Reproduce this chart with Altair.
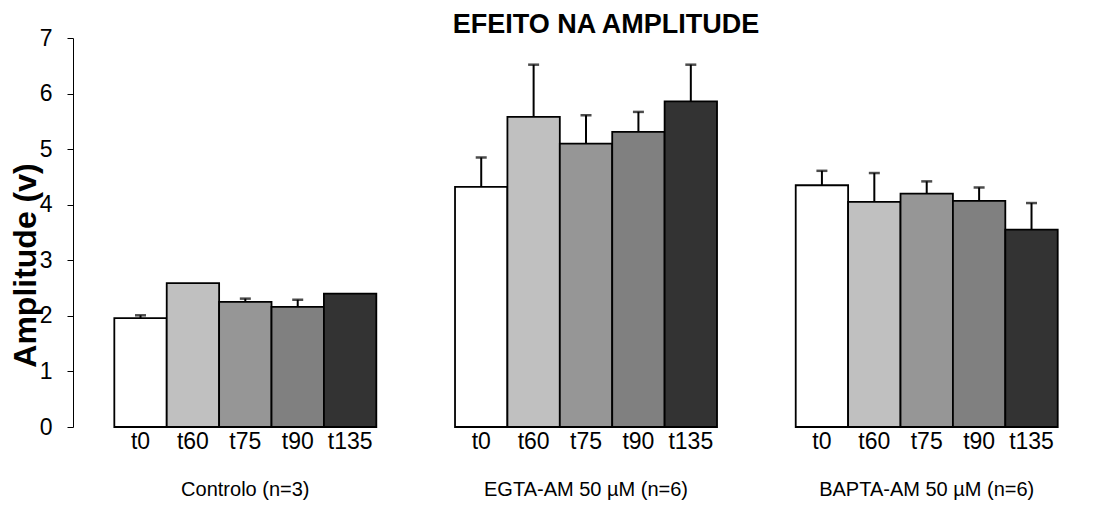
import altair as alt
import pandas as pd

groups = ["Controlo (n=3)", "EGTA-AM 50 µM (n=6)", "BAPTA-AM 50 µM (n=6)"]
times = ["t0", "t60", "t75", "t90", "t135"]
colors = ["#ffffff", "#c0c0c0", "#969696", "#808080", "#333333"]

controlo_mean = [1.96, 2.59, 2.25, 2.16, 2.40]
controlo_top = [2.01, 2.59, 2.31, 2.29, 2.40]
egta_mean = [4.32, 5.58, 5.10, 5.31, 5.86]
egta_top = [4.85, 6.52, 5.61, 5.67, 6.52]
bapta_mean = [4.35, 4.05, 4.20, 4.07, 3.55]
bapta_top = [4.61, 4.57, 4.42, 4.31, 4.03]

title_text = "EFEITO NA AMPLITUDE"
y_title = "Amplitude (v)"
y_ticks = [0, 1, 2, 3, 4, 5, 6, 7]

means = [controlo_mean, egta_mean, bapta_mean]
tops = [controlo_top, egta_top, bapta_top]
rows = []
for g, m, t in zip(groups, means, tops):
    for tm, v, e in zip(times, m, t):
        rows.append({"group": g, "time": tm, "value": v, "err": e})
df = pd.DataFrame(rows)

FONT = "Liberation Sans"

xscale = alt.Scale(domain=groups, paddingInner=0.231, paddingOuter=0.0728, align=0.833)
xoff = alt.XOffset("time:N", sort=times, scale=alt.Scale(domain=times, paddingInner=0, paddingOuter=0))
yscale = alt.Scale(domain=[0, 7], nice=False, zero=True)

base = alt.Chart(df).encode(
    x=alt.X("group:N", sort=groups, scale=xscale, axis=None),
    xOffset=xoff,
)

bars = base.mark_bar(stroke="black", strokeWidth=1.8).encode(
    y=alt.Y(
        "value:Q",
        scale=yscale,
        axis=alt.Axis(
            values=y_ticks,
            format="d",
            grid=False,
            tickSize=6,
            tickColor="black",
            domainColor="black",
            labelPadding=15,
            labelFont=FONT,
            labelFontSize=23,
            labelColor="black",
            title=y_title,
            titleFont=FONT,
            titleFontSize=32,
            titleFontWeight="bold",
            titleColor="black",
            titleX=-48,
            titleY=227,
            titleAngle=-90,
            titleAlign="center",
            titleBaseline="middle",
        ),
    ),
    fill=alt.Fill("time:N", scale=alt.Scale(domain=times, range=colors), legend=None),
)

errs = base.transform_filter("datum.err > datum.value")

rules = errs.mark_rule(color="black", strokeWidth=2).encode(
    y=alt.Y("value:Q", scale=yscale), y2="err:Q"
)
caps = errs.mark_tick(color="black", thickness=2.5, size=11).encode(
    y=alt.Y("err:Q", scale=yscale)
)

time_labels = base.mark_text(font=FONT, fontSize=23, baseline="middle", align="center", color="black").encode(
    y=alt.value(404), text="time:N"
)

gdf = pd.DataFrame({"group": groups})
group_labels = alt.Chart(gdf).mark_text(font=FONT, fontSize=20, baseline="middle", align="center", color="black").encode(
    x=alt.X("group:N", sort=groups, scale=xscale, axis=None),
    y=alt.value(452),
    text="group:N",
)

tdf = pd.DataFrame({"t": [title_text]})
title = alt.Chart(tdf).mark_text(font=FONT, fontSize=27, fontWeight="bold", baseline="middle", align="center", color="black").encode(
    x=alt.value(533), y=alt.value(-13), text="t:N"
)

chart = alt.layer(bars, rules, caps, time_labels, group_labels, title).properties(
    width=993,
    height=389,
    autosize=alt.AutoSizeParams(type="none"),
    padding={"left": 73, "top": 38, "right": 30, "bottom": 79},
    background="white",
).configure_view(stroke=None)

chart.save("out.html", embed_options={"renderer": "svg", "actions": False})
